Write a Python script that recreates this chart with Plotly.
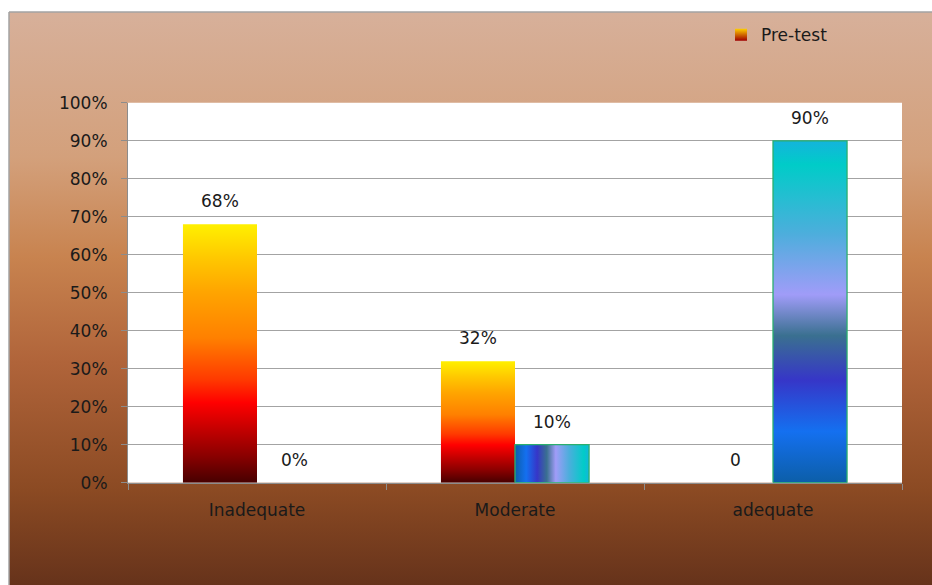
import base64
import plotly.graph_objects as go

# ---- data -------------------------------------------------------------
categories = ["Inadequate", "Moderate", "adequate"]
pre_test = [68, 32, 0]
post_test = [0, 10, 90]
pre_labels = ["68%", "32%", "0"]
post_labels = ["0%", "10%", "90%"]
y_ticks = [0, 10, 20, 30, 40, 50, 60, 70, 80, 90, 100]
y_tick_text = [f"{v}%" for v in y_ticks]

# ---- layout geometry (pixels) -----------------------------------------
W, H = 932, 600
PLOT_L, PLOT_R, PLOT_T, PLOT_B = 128, 902, 96, 489
FRAME_L, FRAME_T = 9, 2
BAR_W = 0.287          # bar width in category units
FONT = "DejaVu Sans"
FONT_SIZE = 17
TEXT_COLOR = "#1a1a1a"

PRE_SCALE = [
    [0.00, "#470000"], [0.10, "#880000"], [0.20, "#C00000"],
    [0.31, "#FF0000"], [0.40, "#FF3A00"], [0.56, "#FF8000"],
    [0.74, "#FFA500"], [0.87, "#FFC800"], [1.00, "#FFF000"],
]
POST_SCALE = [
    [0.00, "#0C5EA8"], [0.15, "#1470F0"], [0.30, "#3636C8"],
    [0.43, "#3A7090"], [0.55, "#A09CF8"], [0.73, "#4CAEDC"],
    [0.93, "#00CCC8"], [1.00, "#14B4DC"],
]

px_per_unit = (PLOT_B - PLOT_T) / (y_ticks[-1] - y_ticks[0])
bar_px = BAR_W * (PLOT_R - PLOT_L) / len(categories)

fig = go.Figure()


def add_bar(x0, x1, value, scale, name, outline, orient):
    fig.add_trace(go.Scatter(
        x=[x0, x0, x1, x1, x0],
        y=[0, value, value, 0, 0],
        mode="lines",
        fill="toself",
        fillgradient=dict(type=orient, colorscale=scale),
        line=dict(color=outline or "rgba(0,0,0,0)",
                  width=1.3 if (outline and value > 0) else 0),
        name=name,
        legendgroup=name,
        showlegend=False,
        hoverinfo="skip",
    ))


for i, cat in enumerate(categories):
    add_bar(i - BAR_W, i, pre_test[i], PRE_SCALE, "Pre-test", None, "vertical")
    orient = "vertical" if post_test[i] * px_per_unit > bar_px else "horizontal"
    add_bar(i, i + BAR_W, post_test[i], POST_SCALE, "Post-test", "#2BAF6E", orient)

# legend entry for the pre-test series
fig.add_trace(go.Scatter(
    x=[None], y=[None], mode="markers", name="Pre-test",
    marker=dict(symbol="square", size=12, color="#FFD000",
                line=dict(width=0),
                gradient=dict(type="vertical", color="#A00000")),
    showlegend=True,
))

# value labels above each bar
label_font = dict(family=FONT, size=FONT_SIZE, color=TEXT_COLOR)
annotations = []
for i in range(len(categories)):
    annotations.append(dict(x=i - BAR_W / 2, y=pre_test[i], text=pre_labels[i],
                            xref="x", yref="y", showarrow=False,
                            yanchor="middle", yshift=23, font=label_font))
    annotations.append(dict(x=i + BAR_W / 2, y=post_test[i], text=post_labels[i],
                            xref="x", yref="y", showarrow=False,
                            yanchor="middle", yshift=23, font=label_font))

# brown gradient backdrop
svg = (
    "<svg xmlns='http://www.w3.org/2000/svg' width='100' height='100' "
    "viewBox='0 0 100 100' preserveAspectRatio='none'>"
    "<defs><linearGradient id='g' x1='0' y1='0' x2='0' y2='1'>"
    "<stop offset='0' stop-color='#D7B09A'/>"
    "<stop offset='0.25' stop-color='#D3A07B'/>"
    "<stop offset='0.42' stop-color='#C8834F'/>"
    "<stop offset='0.60' stop-color='#B0643A'/>"
    "<stop offset='0.82' stop-color='#8B4A23'/>"
    "<stop offset='1' stop-color='#62301A'/>"
    "</linearGradient></defs>"
    "<rect width='100' height='100' fill='url(#g)'/></svg>"
)
bg_uri = "data:image/svg+xml;base64," + base64.b64encode(svg.encode()).decode()

fig.update_layout(
    width=W, height=H,
    margin=dict(l=0, r=0, t=0, b=0),
    paper_bgcolor="white",
    plot_bgcolor="white",
    font=dict(family=FONT, size=FONT_SIZE, color=TEXT_COLOR),
    images=[dict(source=bg_uri, xref="paper", yref="paper",
                 x=FRAME_L / W, y=1 - FRAME_T / H,
                 sizex=1 - FRAME_L / W + 0.01, sizey=1 - FRAME_T / H + 0.01,
                 xanchor="left", yanchor="top", sizing="stretch",
                 layer="below")],
    shapes=[
        dict(type="rect", xref="x domain", yref="y domain", x0=0, x1=1, y0=0, y1=1,
             fillcolor="white", line=dict(width=0), layer="below"),
        dict(type="line", xref="paper", yref="paper",
             x0=FRAME_L / W, x1=1, y0=1 - FRAME_T / H, y1=1 - FRAME_T / H,
             line=dict(color="#A3A3A3", width=1.5), layer="below"),
        dict(type="line", xref="paper", yref="paper",
             x0=FRAME_L / W, x1=FRAME_L / W, y0=0, y1=1 - FRAME_T / H,
             line=dict(color="#A3A3A3", width=1.5), layer="below"),
    ],
    annotations=annotations,
    showlegend=True,
    legend=dict(x=721 / W, y=1 - 26 / H, xanchor="left", yanchor="middle",
                bgcolor="rgba(0,0,0,0)", font=label_font, itemclick=False),
    xaxis=dict(
        domain=[PLOT_L / W, PLOT_R / W],
        range=[-0.5, len(categories) - 0.5],
        tickvals=list(range(len(categories))),
        ticktext=categories,
        ticks="", showgrid=False, zeroline=False,
        showline=True, linecolor="#8C8C8C", linewidth=1,
        ticklabelstandoff=12,
        minor=dict(tickvals=[i - 0.5 for i in range(len(categories) + 1)],
                   ticks="outside", ticklen=6, tickcolor="#8C8C8C", tickwidth=1,
                   showgrid=False),
        fixedrange=True,
    ),
    yaxis=dict(
        domain=[1 - PLOT_B / H, 1 - PLOT_T / H],
        range=[y_ticks[0], y_ticks[-1]],
        tickvals=y_ticks, ticktext=y_tick_text,
        ticks="outside", ticklen=6, tickcolor="#8C8C8C", tickwidth=1,
        showgrid=True, gridcolor="#A3A3A3", gridwidth=1.4,
        zeroline=False, showline=True, linecolor="#8C8C8C", linewidth=1,
        ticklabelstandoff=10,
        fixedrange=True,
    ),
)

fig.write_html("out.html")
